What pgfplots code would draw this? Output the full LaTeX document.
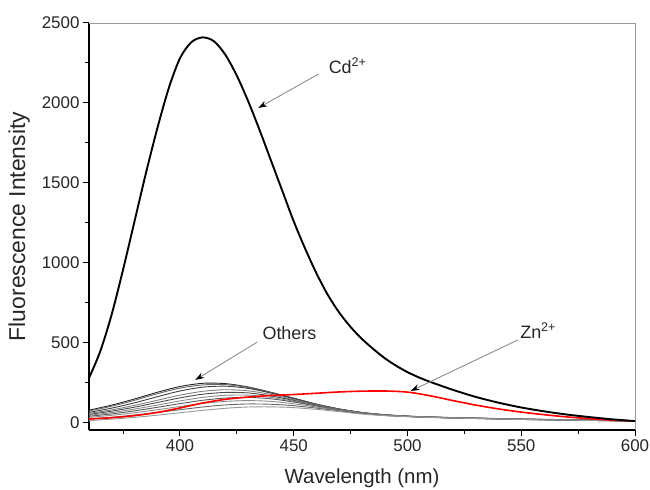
\documentclass[border=0pt]{standalone}
\usepackage{pgfplots}
\pgfplotsset{compat=1.18}
\usepackage{pgfplotstable}
\usepackage{fontspec}
\setmainfont{Liberation Sans}
\usetikzlibrary{arrows.meta}

\pgfplotstableread{
x   c1  c2  c3  c4  c5  c6  c7  c8  c9  c10
360 80  75  66  60  54  48  42  35  25  15
370 112 105 93  82  74  65  57  48  36  24
380 150 142 126 110 99  87  76  64  50  35
390 192 183 164 142 128 112 98  83  66  49
400 228 218 200 174 157 138 121 103 83  64
410 248 238 224 198 180 160 142 122 100 79
420 246 240 230 208 191 173 156 135 113 92
430 225 222 216 201 188 174 160 140 119 100
440 192 190 187 178 169 160 151 135 117 101
450 155 154 152 146 141 136 131 120 108 96
460 118 117 116 113 110 108 106 100 93  85
470 88  87  87  85  84  83  82  79  76  71
480 66  65  65  64  63  63  62  61  59  56
490 52  51  51  50  50  50  49  48  47  46
500 43  43  42  42  42  41  41  41  40  40
510 38  37  37  37  36  36  36  36  35  35
520 34  33  33  33  32  32  32  32  31  31
530 31  30  30  30  29  29  29  29  28  28
540 28  27  27  27  26  26  26  26  25  25
550 25  24  24  24  23  23  23  23  22  22
560 23  22  22  21  21  21  20  20  20  20
570 21  20  20  19  19  19  18  18  18  18
580 19  18  18  17  17  17  16  16  16  16
590 17  16  16  15  15  15  14  14  14  14
600 14  14  13  13  13  12  12  12  12  12
}\others

\pgfplotstableread{
x   y
360 25
370 33
380 46
390 66
400 94
410 125
420 148
430 162
440 172
450 178
460 186
470 194
480 199
490 200
500 193
510 170
520 140
530 112
540 88
550 68
560 52
570 38
580 27
590 18
600 12
}\zinc

\pgfplotstableread{
x   y
360 281
365 450
370 680
375 960
380 1260
385 1560
390 1840
395 2090
400 2280
405 2380
410 2410
415 2385
420 2300
425 2170
430 2010
435 1830
440 1640
445 1450
450 1260
455 1090
460 935
465 800
470 690
475 600
480 525
485 462
490 405
495 358
500 318
505 285
510 257
520 207
530 163
540 127
550 97
560 73
570 53
580 37
590 23
600 12
}\cadmium

\begin{document}
\begin{tikzpicture}
\begin{axis}[
  scale only axis, width=546bp, height=407bp,
  xmin=360, xmax=600, ymin=-43.75, ymax=2500,
  axis lines*=left,
  axis line style={-, line width=1.1bp, black},
  tick align=outside,
  xtick={400,450,500,550,600},
  minor xtick={375,425,475,525,575},
  ytick={0,500,1000,1500,2000,2500},
  minor ytick={250,750,1250,1750,2250},
  major tick length=6bp, minor tick length=4bp,
  tick style={black, line width=1bp},
  every tick label/.append style={font=\fontsize{17}{20}\selectfont, text=black!85},
  /pgf/number format/assume math mode=true,
  /pgf/number format/1000 sep={},
  scaled y ticks=false,
  xlabel={Wavelength (nm)},
  ylabel={Fluorescence Intensity},
  every axis x label/.style={at={(axis description cs:0.5,-0.118)}, anchor=center, font=\fontsize{20.5}{24}\selectfont, text=black!85},
  every axis y label/.style={at={(axis description cs:-0.128,0.5)}, anchor=center, rotate=90, font=\fontsize{23}{26}\selectfont, text=black!85},
  clip=false,
]
\draw[black!40, line width=0.9bp] (rel axis cs:0,1) -- (rel axis cs:1,1) -- (rel axis cs:1,0);
\coordinate (sw) at (rel axis cs:0,0);

\addplot[black!85, line width=0.9bp, smooth] table[x=x, y=c1] {\others};
\addplot[black!60, line width=0.9bp, smooth] table[x=x, y=c2] {\others};
\addplot[black!75, line width=0.9bp, smooth] table[x=x, y=c3] {\others};
\addplot[black!50, line width=0.9bp, smooth] table[x=x, y=c4] {\others};
\addplot[black!70, line width=0.9bp, smooth] table[x=x, y=c5] {\others};
\addplot[black!45, line width=0.9bp, smooth] table[x=x, y=c6] {\others};
\addplot[black!65, line width=0.9bp, smooth] table[x=x, y=c7] {\others};
\addplot[black!45, line width=0.9bp, smooth] table[x=x, y=c8] {\others};
\addplot[black!60, line width=0.9bp, smooth] table[x=x, y=c9] {\others};
\addplot[black!40, line width=0.9bp, smooth] table[x=x, y=c10] {\others};

\addplot[red, line width=1.6bp, smooth] table[x=x, y=y] {\zinc};
\addplot[black, line width=1.9bp, smooth] table[x=x, y=y] {\cadmium};

\draw[black!45, line width=0.9bp, -{Stealth[length=9bp, width=6bp, black]}] (axis cs:460.9,2181) -- (axis cs:434.4,1969);
\node[anchor=base west, inner sep=0pt, font=\fontsize{18}{20}\selectfont, text=black!85] at (axis cs:465.3,2187) {Cd\textsuperscript{2+}};

\draw[black!45, line width=0.9bp, -{Stealth[length=9bp, width=6bp, black]}] (axis cs:434,506) -- (axis cs:406.7,269);
\node[anchor=base west, inner sep=0pt, font=\fontsize{18}{20}\selectfont, text=black!85] at (axis cs:436.2,519) {Others};

\draw[black!45, line width=0.9bp, -{Stealth[length=9bp, width=6bp, black]}] (axis cs:548.5,519) -- (axis cs:501.4,200);
\node[anchor=base west, inner sep=0pt, font=\fontsize{18}{20}\selectfont, text=black!85] at (axis cs:549.5,531) {Zn\textsuperscript{2+}};
\end{axis}
\pgfresetboundingbox
\path (sw) ++(-89bp,-60bp) rectangle ++(650bp,490bp);
\end{tikzpicture}
\end{document}
